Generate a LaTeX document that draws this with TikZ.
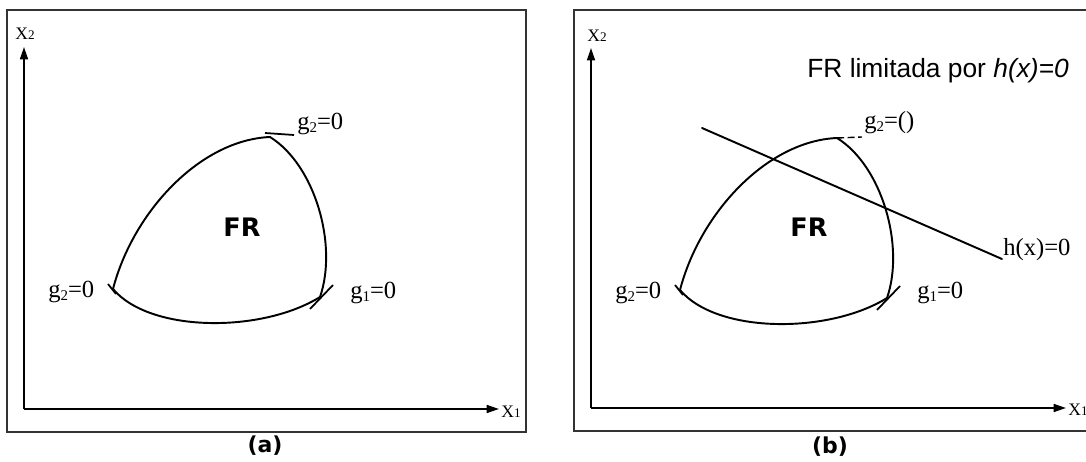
\documentclass[tikz,border=0pt]{standalone}
\usepackage{fontspec}
\setmainfont{Liberation Serif}
\newfontfamily\dvsans{DejaVu Sans}
\newfontfamily\lsans{Liberation Sans}
\usetikzlibrary{arrows.meta}
\newcommand{\gsub}[1]{g\raisebox{-0.25ex}{\fontsize{8.5}{8.5}\selectfont #1}}
\newcommand{\xsub}[1]{X{\fontsize{7.5}{7.5}\selectfont #1}}
\tikzset{
  curve/.style={line width=1.1pt, line cap=round},
  tickline/.style={line width=1pt},
  axisline/.style={line width=1pt, -{Triangle[length=7pt,width=4.5pt]}},
  frame/.style={line width=0.9pt, draw=black!80},
  glabel/.style={inner sep=0pt, anchor=base west, font=\fontsize{14}{15}\selectfont},
  xlabel/.style={inner sep=0pt, font=\fontsize{10}{11}\selectfont},
  frlabel/.style={inner sep=0pt, font=\dvsans\bfseries\fontsize{14.5}{15}\selectfont},
  caplabel/.style={inner sep=0pt, font=\dvsans\bfseries\fontsize{12.5}{13}\selectfont},
}
\begin{document}
\begin{tikzpicture}[x=0.02cm, y=-0.02cm]
\useasboundingbox (0,0) rectangle (1086,462);

% ---------------- panel (a) ----------------
\draw[frame] (7,10) rectangle (526,432);
\coordinate (oA) at (24,409);
\coordinate (yA) at (24,47);
\coordinate (xA) at (499,409);
\draw[axisline] (oA) -- (yA);
\draw[axisline] (oA) -- (xA);
\node[xlabel, anchor=base] (x2A) at (25,40) {\xsub{2}};
\node[xlabel, anchor=base west] (x1A) at (501,418) {\xsub{1}};

\coordinate (topA) at (270,137);
\coordinate (leftA) at (113,289);
\coordinate (rightA) at (320,297);
\draw[curve] (leftA) .. controls (133,212) and (200,140) .. (topA);
\draw[curve] (topA) .. controls (315,165) and (338,245) .. (rightA);
\draw[curve] (leftA) .. controls (150,333) and (262,333) .. (rightA);

\coordinate (t1A) at (265,133);
\coordinate (t2A) at (294,135);
\draw[tickline] (t1A) -- (t2A);
\coordinate (t3A) at (108,284);
\coordinate (t4A) at (116,294);
\draw[tickline] (t3A) -- (t4A);
\coordinate (t5A) at (333,285);
\coordinate (t6A) at (310,309);
\draw[tickline] (t5A) -- (t6A);

\node[glabel] (g2topA) at (297,130) {\gsub{2}=0};
\node[glabel] (g2leftA) at (48,298) {\gsub{2}=0};
\node[glabel] (g1A) at (350,299) {\gsub{1}=0};
\node[frlabel] (frA) at (242,227) {FR};
\node[caplabel] (capA) at (265,446) {(a)};

% ---------------- panel (b) ----------------
\draw[frame] (1100,10) -- (574,10) -- (574,431) -- (1100,431);
\coordinate (oB) at (591,408);
\coordinate (yB) at (591,48);
\coordinate (xB) at (1066,408);
\draw[axisline] (oB) -- (yB);
\draw[axisline] (oB) -- (xB);
\node[xlabel, anchor=base] (x2B) at (597,42) {\xsub{2}};
\node[xlabel, anchor=base west] (x1B) at (1068,416) {\xsub{1}};

\begin{scope}[shift={(567,1)}]
\coordinate (topB) at (270,137);
\coordinate (leftB) at (113,289);
\coordinate (rightB) at (320,297);
\draw[curve] (leftB) .. controls (133,212) and (200,140) .. (topB);
\draw[curve] (topB) .. controls (315,165) and (338,245) .. (rightB);
\draw[curve] (leftB) .. controls (150,333) and (262,333) .. (rightB);
\coordinate (t3B) at (108,284);
\coordinate (t4B) at (116,294);
\draw[tickline] (t3B) -- (t4B);
\coordinate (t5B) at (333,285);
\coordinate (t6B) at (310,309);
\draw[tickline] (t5B) -- (t6B);
\end{scope}

\node[glabel] (g2topB) at (864,129) {\gsub{2}=()};
\coordinate (leadB) at (862,137);
\draw[line width=0.8pt, dash pattern=on 4pt off 2pt] (topB) -- (leadB);
\node[glabel] (g2leftB) at (615,299) {\gsub{2}=0};
\node[glabel] (g1B) at (917,299) {\gsub{1}=0};
\node[frlabel] (frB) at (809,227) {FR};
\node[caplabel] (capB) at (830,447) {(b)};

\coordinate (h1) at (702,128);
\coordinate (h2) at (1002,259);
\draw[curve] (h1) -- (h2);
\node[glabel] (hlab) at (1003,256) {h(x)=0};

\node[inner sep=0pt, anchor=base west, font=\lsans\fontsize{15}{16}\selectfont] (title) at (807,78) {FR limitada por \textit{h(x)=0}};
\end{tikzpicture}
\end{document}
